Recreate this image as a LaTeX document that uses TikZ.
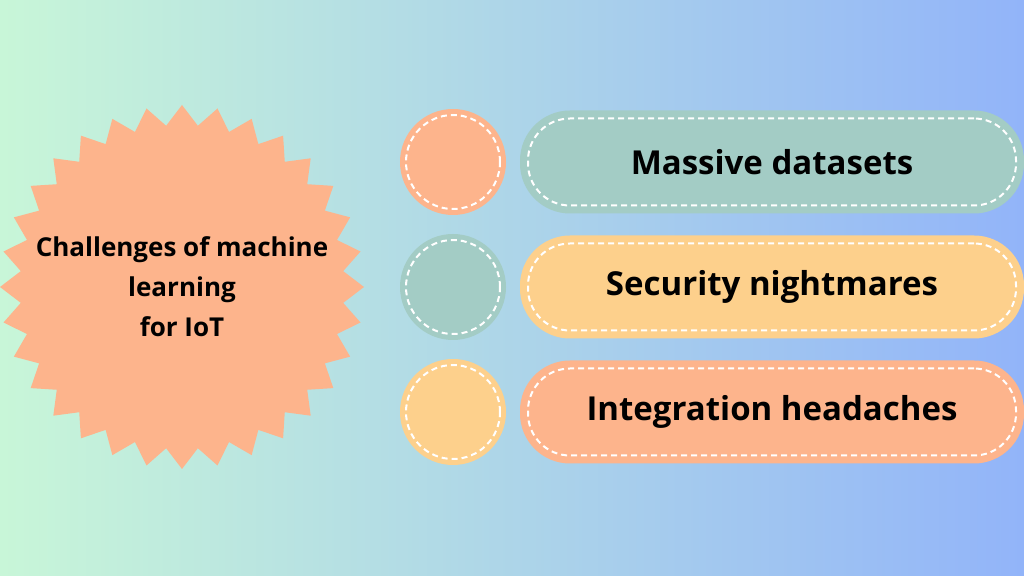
\documentclass[tikz,border=0pt]{standalone}
\usepackage{fontspec}
\setmainfont{Open Sans}
\usetikzlibrary{positioning}
\definecolor{bgleft}{HTML}{C8F6D8}
\definecolor{bgright}{HTML}{92B4F9}
\definecolor{salmon}{HTML}{FDB48C}
\definecolor{teal}{HTML}{A3CCC5}
\definecolor{sand}{HTML}{FDD08C}
\tikzset{
  dot/.style={circle, minimum size=106pt, inner sep=0pt},
  ring/.style={circle, draw=white, dash pattern=on 6pt off 4pt, line width=2pt, minimum size=94pt, inner sep=0pt},
  pill/.style={rounded corners=50pt, minimum width=504pt, minimum height=103pt, inner sep=0pt},
  pillring/.style={rounded corners=42pt, draw=white, dash pattern=on 6pt off 4pt, line width=2pt,
    minimum width=488pt, minimum height=87pt, inner sep=0pt}
}
\begin{document}
\begin{tikzpicture}[x=1pt,y=1pt]
\shade[left color=bgleft, right color=bgright] (0,0) rectangle (1024,575);
\useasboundingbox (0,0) rectangle (1024,575);
% starburst
\begin{scope}[shift={(182,288)}]
\fill[salmon] (90:182)
  \foreach \i in {1,...,32} { -- ({90+\i*11.25-5.625}:162) -- ({90+\i*11.25}:182) } -- cycle;
\end{scope}
\node (title) at (182,288) [align=center, font=\bfseries\fontsize{26}{40}\selectfont]
  {Challenges of machine\\learning\\for IoT};
% circles and pills
\foreach \n/\y/\dc/\pc/\txt in {a/413/salmon/teal/Massive datasets,
    b/288/teal/sand/Security nightmares,
    c/163/sand/salmon/Integration headaches} {
  \node (dot\n) at (453,\y) [dot, fill=\dc] {};
  \node (ring\n) at (dot\n) [ring] {};
  \node (pill\n) at (772,\y) [pill, fill=\pc] {};
  \node (pillring\n) at (pill\n) [pillring] {};
  \node (label\n) at (pill\n) [font=\bfseries\fontsize{33}{38}\selectfont] {\txt};
}
\end{tikzpicture}
\end{document}
